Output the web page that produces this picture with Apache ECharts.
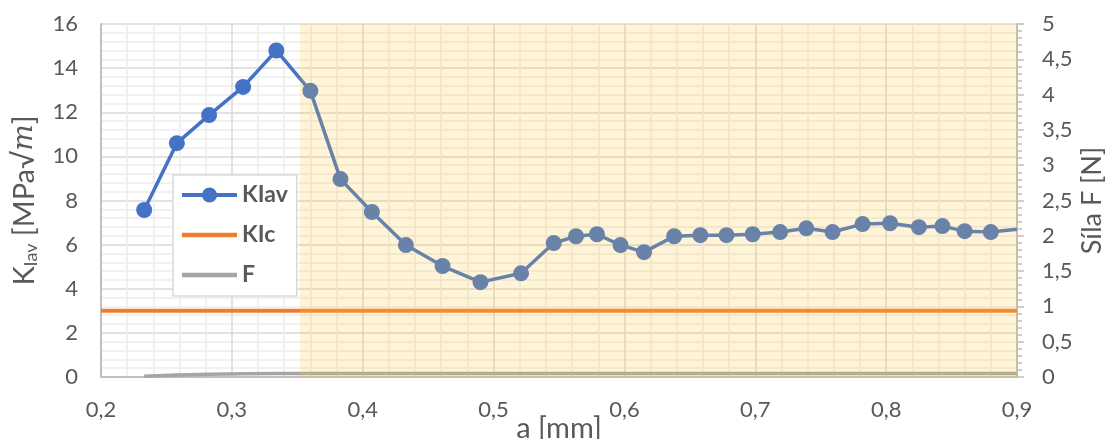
<!DOCTYPE html>
<html>
<head>
<meta charset="utf-8">
<script src="https://cdn.jsdelivr.net/npm/echarts@6/dist/echarts.min.js"></script>
<style>html,body{margin:0;padding:0;background:#fff}#c{width:1114px;height:439px}</style>
</head>
<body>
<div id="c"></div>
<script>
// crack length a [mm]
const aValues = [0.233, 0.258, 0.2826, 0.3086, 0.334, 0.360, 0.383, 0.407, 0.433, 0.461, 0.490, 0.521, 0.546, 0.563, 0.579, 0.597, 0.615, 0.638, 0.658, 0.678, 0.698, 0.719, 0.739, 0.759, 0.782, 0.803, 0.825, 0.843, 0.860, 0.880, 0.900];
// KIav [MPa√m]
const kIav = [7.57, 10.6, 11.87, 13.15, 14.8, 12.97, 8.97, 7.48, 5.98, 5.03, 4.3, 4.7, 6.07, 6.38, 6.47, 5.98, 5.66, 6.38, 6.43, 6.43, 6.47, 6.57, 6.74, 6.57, 6.93, 6.97, 6.79, 6.84, 6.61, 6.57, 6.7];
// force F [N]
const fForce = [0.01, 0.03, 0.04, 0.045, 0.05, 0.05, 0.05, 0.05, 0.05, 0.05, 0.05, 0.05, 0.05, 0.05, 0.05, 0.05, 0.05, 0.05, 0.05, 0.05, 0.05, 0.05, 0.05, 0.05, 0.05, 0.05, 0.05, 0.05, 0.05, 0.05, 0.05];
// KIc level
const kIcRange = [0.2, 0.9];
const kIcValue = 3;
// highlighted region
const shadeRange = [0.352, 0.9];
const xTicks = ['0,2','0,3','0,4','0,5','0,6','0,7','0,8','0,9'];

const comma = v => String(+v.toFixed(2)).replace('.', ',');
const labelColor = '#595959';
const FONT = 'Lato';
const barIcon = 'path://M0,0 L100,0 L100,8 L0,8 Z';

const kIavData = aValues.map((a, i) => {
  const d = { value: [a, kIav[i]] };
  if (i === aValues.length - 1) d.symbolSize = 0;
  return d;
});
const fData = aValues.map((a, i) => [a, fForce[i]]);

const chart = echarts.init(document.getElementById('c'), null, { renderer: 'canvas' });
chart.setOption({
  animation: false,
  backgroundColor: '#ffffff',
  textStyle: { fontFamily: FONT },
  grid: { left: 101, right: 97, top: 24, bottom: 62, containLabel: false, outerBoundsMode: 'none' },
  legend: {
    data: [
      { name: 'KIav', lineStyle: { width: 4 } },
      { name: 'KIc', icon: barIcon },
      { name: 'F', icon: barIcon }
    ],
    orient: 'vertical',
    left: 173, top: 175,
    padding: [8, 9, 9, 7],
    itemWidth: 55, itemHeight: 19, itemGap: 16,
    backgroundColor: '#ffffff',
    borderColor: '#D9D9D9', borderWidth: 1.5,
    textStyle: { fontFamily: FONT, fontSize: 23, fontWeight: 'bold', color: labelColor, lineHeight: 24 }
  },
  xAxis: {
    type: 'value', min: 0.2, max: 0.9, interval: 0.1,
    name: 'a [mm]', nameLocation: 'middle', nameGap: 37, nameMoveOverlap: false,
    nameTextStyle: { fontFamily: FONT, fontSize: 29, color: labelColor, verticalAlign: 'top' },
    axisLine: { show: true, onZero: false, lineStyle: { color: '#BFBFBF', width: 2 } },
    axisTick: { show: false },
    axisLabel: { margin: 22, fontSize: 22, color: labelColor, fontFamily: FONT,
      formatter: v => xTicks[Math.round((v - 0.2) * 10)] },
    splitLine: { show: true, lineStyle: { color: '#D9D9D9', width: 1.5 } },
    minorTick: { show: false, splitNumber: 5 },
    minorSplitLine: { show: true, lineStyle: { color: '#EDEDED', width: 1.5 } }
  },
  yAxis: [
    {
      type: 'value', min: 0, max: 16, interval: 2, position: 'left',
      name: '{n|K}{s|Iav}{n| [MPa√}{i|m}{n|]}',
      nameLocation: 'middle', nameGap: 61, nameRotate: 90, nameMoveOverlap: false,
      nameTextStyle: {
        color: labelColor, fontFamily: FONT, fontSize: 29,
        rich: {
          n: { fontSize: 29, color: labelColor, fontFamily: FONT, lineHeight: 31 },
          s: { fontSize: 18, color: labelColor, fontFamily: FONT, verticalAlign: 'bottom', lineHeight: 31, padding: [10, 0, 0, 0] },
          i: { fontSize: 28, color: labelColor, fontFamily: 'DejaVu Serif', fontStyle: 'italic', lineHeight: 31 }
        }
      },
      axisLine: { show: true, lineStyle: { color: '#BFBFBF', width: 2 } },
      axisTick: { show: false },
      axisLabel: { margin: 23, fontSize: 22, color: labelColor, fontFamily: FONT },
      splitLine: { show: true, lineStyle: { color: '#D9D9D9', width: 1.5 } },
      minorTick: { show: false, splitNumber: 5 },
      minorSplitLine: { show: true, lineStyle: { color: '#EDEDED', width: 1.5 } }
    },
    {
      type: 'value', min: 0, max: 5, interval: 0.5, position: 'right',
      name: 'Síla F [N]', nameLocation: 'middle', nameGap: 62, nameRotate: 90, nameMoveOverlap: false,
      nameTextStyle: { fontSize: 27, color: labelColor, fontFamily: FONT },
      axisLine: { show: true, lineStyle: { color: '#BFBFBF', width: 2 } },
      axisTick: { show: true, length: 7, lineStyle: { color: '#BFBFBF', width: 1.5 } },
      minorTick: { show: true, splitNumber: 5, length: 5, lineStyle: { color: '#BFBFBF', width: 1.5 } },
      axisLabel: { margin: 25, fontSize: 22, color: labelColor, fontFamily: FONT, formatter: comma },
      splitLine: { show: false },
      minorSplitLine: { show: false }
    }
  ],
  series: [
    {
      name: 'F', type: 'line', yAxisIndex: 1, data: fData,
      symbol: 'none', lineStyle: { color: '#A5A5A5', width: 3.5 }, itemStyle: { color: '#A5A5A5' },
      z: 2
    },
    {
      name: 'KIc', type: 'line', yAxisIndex: 0,
      data: kIcRange.map(a => [a, kIcValue]),
      symbol: 'none', lineStyle: { color: '#ED7D31', width: 4 }, itemStyle: { color: '#ED7D31' },
      z: 3
    },
    {
      name: 'KIav', type: 'line', yAxisIndex: 0, data: kIavData,
      symbol: 'circle', symbolSize: 16, showAllSymbol: true,
      lineStyle: { color: '#4472C4', width: 3.5 }, itemStyle: { color: '#4472C4' },
      z: 4
    },
    {
      name: 'shade', type: 'custom', yAxisIndex: 0, silent: true, z: 10,
      data: [[shadeRange[0], shadeRange[1]]],
      renderItem: (params, api) => {
        const p0 = api.coord([api.value(0), 16]);
        const p1 = api.coord([api.value(1), 0]);
        return {
          type: 'rect',
          shape: { x: p0[0], y: p0[1], width: p1[0] - p0[0], height: p1[1] - p0[1] },
          style: { fill: 'rgba(255,200,60,0.2)' }
        };
      }
    }
  ]
});
</script>
</body>
</html>
